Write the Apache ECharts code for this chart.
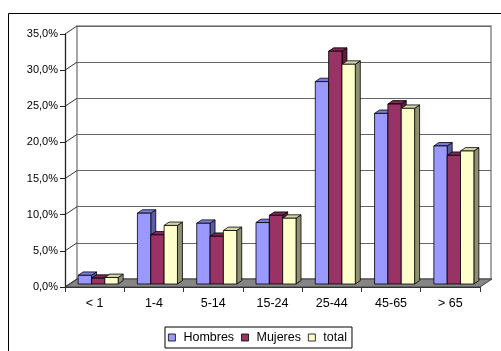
<!DOCTYPE html>
<html>
<head>
<meta charset="utf-8">
<script src="https://cdn.jsdelivr.net/npm/echarts@6/dist/echarts.min.js"></script>
<style>
  html, body { margin: 0; padding: 0; background: #fff; }
  #chart { width: 501px; height: 351px; }
</style>
</head>
<body>
<div id="chart"></div>
<script>
// Age groups and share of each group (%)
const categories = ['< 1', '1-4', '5-14', '15-24', '25-44', '45-65', '> 65'];
const hombres = [1.2, 9.8, 8.4, 8.5, 28.0, 23.6, 19.1];
const mujeres = [0.8, 6.8, 6.6, 9.5, 32.2, 24.9, 17.8];
const total   = [0.9, 8.1, 7.4, 9.1, 30.4, 24.3, 18.4];
const seriesNames = ['Hombres', 'Mujeres', 'total'];
const yMax = 35, yStep = 5;
const yTicks = [0, 5, 10, 15, 20, 25, 30, 35];

// Fake-3D geometry: depth of the plot box and of each column
const DEPTH_X = 12, DEPTH_Y = 8;
const FACE_DX = 3.5, FACE_DY = 3;
const BAR_DX = 5, BAR_DY = 3.4;
const BAR_RATIO = 0.225;

const FRONT = { left: 65, right: 21, top: 34, bottom: 64 };

const palette = [
  { face: '#9999FF', top: '#7C7CD6', side: '#5C5CA3' },
  { face: '#993366', top: '#7A2952', side: '#5C1F3D' },
  { face: '#FFFFCC', top: '#D6D6AB', side: '#8F8F72' }
];

function fmtPct(v) { return v.toFixed(1).replace('.', ',') + '%'; }

function columnRenderer(idx) {
  const c = palette[idx];
  return function (params, api) {
    const cat = api.value(0), v = api.value(1);
    const base = api.coord([cat, 0]);
    const top = api.coord([cat, v]);
    const band = api.size([1, 0])[0];
    const bw = band * BAR_RATIO;
    const x0 = base[0] - 1.5 * bw + idx * bw + FACE_DX;
    const x1 = x0 + bw;
    const yb = base[1] - FACE_DY;
    const yt = top[1] - FACE_DY;
    const stroke = { stroke: '#000', lineWidth: 0.8 };
    return {
      type: 'group',
      children: [
        { type: 'polygon', shape: { points: [[x1, yt], [x1 + BAR_DX, yt - BAR_DY], [x1 + BAR_DX, yb - BAR_DY], [x1, yb]] },
          style: Object.assign({ fill: c.side }, stroke) },
        { type: 'polygon', shape: { points: [[x0, yt], [x1, yt], [x1 + BAR_DX, yt - BAR_DY], [x0 + BAR_DX, yt - BAR_DY]] },
          style: Object.assign({ fill: c.top }, stroke) },
        { type: 'rect', shape: { x: x0, y: yt, width: bw, height: yb - yt },
          style: Object.assign({ fill: c.face }, stroke) }
      ]
    };
  };
}

const seriesData = [hombres, mujeres, total];

const chart = echarts.init(document.getElementById('chart'), null, { renderer: 'canvas' });

const option = {
  animation: false,
  backgroundColor: '#fff',
  textStyle: { fontFamily: 'Liberation Sans, Arial, sans-serif' },
  graphic: [{
    type: 'rect', z: 0, silent: true,
    shape: { x: 8.5, y: 13.5, width: 600, height: 400 },
    style: { fill: 'none', stroke: '#000', lineWidth: 1 }
  }],
  grid: [
    Object.assign({}, FRONT, { show: false }),
    {
      left: FRONT.left + DEPTH_X, right: FRONT.right - 11,
      top: FRONT.top - DEPTH_Y, bottom: FRONT.bottom + DEPTH_Y,
      show: true, backgroundColor: '#fff', borderColor: '#8a8a8a', borderWidth: 1.5
    }
  ],
  xAxis: [
    {
      type: 'category', gridIndex: 0, data: categories, boundaryGap: true,
      axisLine: { show: true, lineStyle: { color: '#333', width: 1 } },
      axisTick: { show: true, length: 5, lineStyle: { color: '#333' } },
      axisLabel: { fontSize: 12.5, color: '#000', margin: 10, fontFamily: 'Liberation Sans' },
      splitLine: { show: false }, z: 5
    },
    {
      type: 'category', gridIndex: 1, data: categories, boundaryGap: true,
      axisLine: { show: false }, axisTick: { show: false }, axisLabel: { show: false },
      splitLine: { show: false }
    }
  ],
  yAxis: [
    {
      type: 'value', gridIndex: 0, min: 0, max: yMax, interval: yStep,
      axisLine: { show: true, lineStyle: { color: '#222', width: 1.3 } },
      axisTick: { show: true, length: 5, lineStyle: { color: '#222' } },
      axisLabel: { fontSize: 11, color: '#000', margin: 7, formatter: fmtPct, fontFamily: 'Liberation Sans' },
      splitLine: { show: false }, z: 5
    },
    {
      type: 'value', gridIndex: 1, min: 0, max: yMax, interval: yStep,
      axisLine: { show: false }, axisTick: { show: false }, axisLabel: { show: false },
      splitLine: { show: true, lineStyle: { color: '#666', width: 1.2 } }
    }
  ],
  legend: {
    left: 165, top: 327,
    data: seriesNames.map(function (n) {
      return { name: n, itemStyle: { borderColor: '#000', borderWidth: 0.8 } };
    }),
    icon: 'rect', itemWidth: 7, itemHeight: 7, itemGap: 7,
    borderColor: '#000', borderWidth: 1, padding: [4, 5, 4, 3],
    textStyle: { fontSize: 12.5, color: '#000', padding: [0, 0, 0, 3], fontFamily: 'Liberation Sans' }
  },
  series: [
    {
      // floor of the plot box
      type: 'custom', xAxisIndex: 0, yAxisIndex: 0, z: 1, silent: true,
      data: [[0, 0]],
      renderItem: function (params, api) {
        const cs = params.coordSys;
        const yb = cs.y + cs.height;
        return {
          type: 'polygon',
          shape: { points: [[cs.x, yb], [cs.x + cs.width, yb], [cs.x + cs.width + DEPTH_X, yb - DEPTH_Y], [cs.x + DEPTH_X, yb - DEPTH_Y]] },
          style: { fill: '#858585', stroke: '#404040', lineWidth: 1 }
        };
      }
    },
    {
      // depth edges from the value axis to the back wall
      type: 'custom', xAxisIndex: 0, yAxisIndex: 0, z: 2, silent: true,
      data: yTicks.map(function (t) { return [0, t]; }),
      renderItem: function (params, api) {
        const cs = params.coordSys;
        const y = api.coord([0, api.value(1)])[1];
        return {
          type: 'line',
          shape: { x1: cs.x, y1: y, x2: cs.x + DEPTH_X, y2: y - DEPTH_Y },
          style: { stroke: '#333', lineWidth: 1 }
        };
      }
    }
  ].concat(seriesNames.map(function (name, i) {
    return {
      name: name, type: 'custom', xAxisIndex: 0, yAxisIndex: 0, z: 3 + i,
      itemStyle: { color: palette[i].face, borderColor: '#000', borderWidth: 0.8 },
      encode: { x: 0, y: 1 },
      data: seriesData[i].map(function (v, k) { return [k, v]; }),
      renderItem: columnRenderer(i)
    };
  }))
};

chart.setOption(option);
</script>
</body>
</html>
